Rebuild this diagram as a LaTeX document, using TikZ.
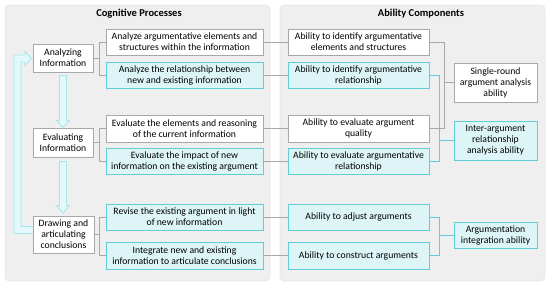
\documentclass[tikz,border=0pt]{standalone}
\usepackage{fontspec}
\setmainfont{Carlito}
\usetikzlibrary{calc}
\definecolor{panelgrey}{HTML}{EFEFEF}
\definecolor{panelline}{HTML}{E6E6E6}
\definecolor{boxline}{HTML}{A8A8A8}
\definecolor{cyanline}{HTML}{62CDD5}
\definecolor{cyanfill}{HTML}{DDF5F7}
\definecolor{arrowline}{HTML}{A6E6EB}
\definecolor{arrowfill}{HTML}{E2F8FA}
\begin{document}
\begin{tikzpicture}[x=1pt,y=-1pt,
  txt/.style={font=\fontsize{9.7}{11}\selectfont},
  wbox/.style={txt, draw=boxline, fill=white, align=center, inner sep=0pt, line width=0.8pt},
  cbox/.style={wbox, draw=cyanline, fill=cyanfill},
  conn/.style={draw=boxline, line width=0.8pt},
  cconn/.style={draw=cyanline, line width=0.8pt},
  barrow/.style={draw=arrowline, fill=arrowfill, line width=0.8pt, line join=miter},
  panel/.style={fill=panelgrey, draw=panelline, line width=0.6pt, rounded corners=4pt},
  ttl/.style={font=\fontsize{10.5}{12}\selectfont\bfseries}]
\useasboundingbox (0,0) rectangle (550,287);
% panels
\draw[panel] (5,5) rectangle (270,281);
\draw[panel] (280,5) rectangle (545,281);
\node[ttl] (t1) at (139,14) {Cognitive Processes};
\node[ttl] (t2) at (421,14) {Ability Components};
% stage boxes
\node[wbox, minimum width=60pt, minimum height=28pt] (S1) at (63,58) {Analyzing\\Information};
\node[wbox, minimum width=60pt, minimum height=29pt] (S2) at (63,142.5) {Evaluating\\Information};
\node[wbox, minimum width=61pt, minimum height=37pt] (S3) at (63.5,234.5) {Drawing and\\articulating\\conclusions};
% process boxes
\node[wbox, minimum width=157pt, minimum height=26pt] (P1) at (184.5,42) {Analyze argumentative elements and\\structures within the information};
\node[cbox, minimum width=157pt, minimum height=26pt] (P2) at (184.5,75) {Analyze the relationship between\\new and existing information};
\node[wbox, minimum width=157pt, minimum height=27pt] (P3) at (184.5,128.5) {Evaluate the elements and reasoning\\of the current information};
\node[cbox, minimum width=157pt, minimum height=26pt] (P4) at (184.5,161) {Evaluate the impact of new\\information on the existing argument};
\node[cbox, minimum width=157pt, minimum height=26pt] (P5) at (184.5,217) {Revise the existing argument in light\\of new information};
\node[cbox, minimum width=157pt, minimum height=27pt] (P6) at (184.5,255.5) {Integrate new and existing\\information to articulate conclusions};
% ability boxes
\node[wbox, minimum width=141pt, minimum height=26pt] (A1) at (358.5,42) {Ability to identify argumentative\\elements and structures};
\node[cbox, minimum width=141pt, minimum height=26pt] (A2) at (358.5,75) {Ability to identify argumentative\\relationship};
\node[wbox, minimum width=141pt, minimum height=27pt] (A3) at (358.5,128.5) {Ability to evaluate argument\\quality};
\node[cbox, minimum width=141pt, minimum height=26pt] (A4) at (358.5,161) {Ability to evaluate argumentative\\relationship};
\node[cbox, minimum width=141pt, minimum height=26pt] (A5) at (358.5,217) {Ability to adjust arguments};
\node[cbox, minimum width=141pt, minimum height=27pt] (A6) at (358.5,255.5) {Ability to construct arguments};
% combined abilities
\node[wbox, minimum width=83pt, minimum height=39pt] (B1) at (495.5,82.5) {Single-round\\argument analysis\\ability};
\node[cbox, minimum width=83pt, minimum height=39pt] (B2) at (495.5,140.5) {Inter-argument\\relationship\\analysis ability};
\node[cbox, minimum width=83pt, minimum height=26pt] (B3) at (495.5,235) {Argumentation\\integration ability};
% left brackets
\draw[conn] (P1.west) -- ++(-6,0) |- (P2.west);
\draw[conn] (S1.east) -- ([xshift=-6pt]S1.east -| P1.west);
\draw[conn] (P3.west) -- ++(-6,0) |- (P4.west);
\draw[conn] (S2.east) -- ([xshift=-6pt]S2.east -| P3.west);
\draw[conn] (P5.west) -- ++(-6,0) |- (P6.west);
\draw[conn] (S3.east) -- ([xshift=-6pt]S3.east -| P5.west);
% process to ability
\foreach \i in {1,...,6}{\draw[conn] (P\i.east) -- (A\i.west);}
% ability to combined
\coordinate (j1) at ([xshift=15pt]A1.east);
\coordinate (j2) at ([xshift=10pt]A2.east);
\coordinate (j3) at ([xshift=10pt]A5.east);
\draw[cconn] (A2.east) -- (j2) |- (A4.east);
\draw[cconn] (B2.west) -- (B2.west -| j2);
\draw[conn] (A1.east) -- (j1) |- (A3.east);
\draw[conn] (B1.west) -- (B1.west -| j1);
\draw[cconn] (A5.east) -- (j3) |- (A6.east);
\draw[cconn] (B3.west) -- (B3.west -| j3);
% block arrows between stages
\draw[barrow] ($(S1.south)+(-3.5,3)$) -- ++(7,0) -- ++(0,45) -- ++(3,0) -- ++(-6.5,7) -- ++(-6.5,-7) -- ++(3,0) -- cycle;
\draw[barrow] ($(S2.south)+(-3.5,4)$) -- ++(7,0) -- ++(0,44) -- ++(3,0) -- ++(-6.5,8) -- ++(-6.5,-8) -- ++(3,0) -- cycle;
% feedback arrow
\draw[barrow] ($(S3.west)+(0,-8)$) -- (21,226.5) -- (21,62) -- (25,62) -- (25,65.5) -- ($(S1.west)+(-1,0.5)$) -- (25,51.5) -- (25,55) -- (14,55) -- (14,233.5) -- ($(S3.west)+(0,-1)$);
\end{tikzpicture}
\end{document}
